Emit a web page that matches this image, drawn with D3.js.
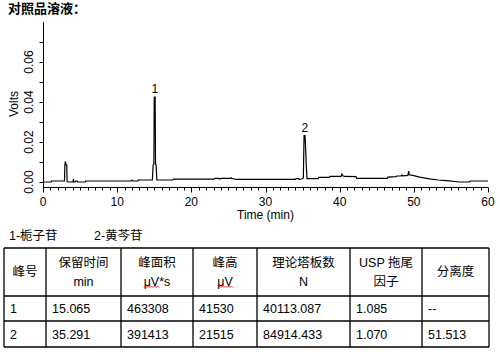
<!DOCTYPE html>
<html><head><meta charset="utf-8">
<script src="https://cdn.jsdelivr.net/npm/d3@7"></script>
<style>
body{margin:0;background:#fff;}
svg{display:block;font-family:"Liberation Sans",Arial,"Noto Sans CJK SC",sans-serif;}
</style></head>
<body><div id="chart"></div>
<script>
// ---- data ----
const title = "对照品溶液：";
const times = [0,1.1,1.15,2.9,2.95,3.0,3.05,3.1,3.2,3.25,3.4,4.05,4.1,4.15,4.35,4.4,4.6,4.65,5.7,5.75,11.9,12.0,12.1,12.8,12.85,14.75,14.85,14.95,15.0,15.12,15.17,15.25,15.35,17.5,17.6,23.1,23.2,23.7,23.75,24.0,25.3,25.4,25.5,25.8,26.0,34.0,34.1,34.5,34.55,34.9,35.1,35.2,35.33,35.42,35.5,35.6,37.1,37.2,38.6,38.7,40.2,40.3,40.4,40.6,42.2,42.3,46.4,46.5,47.6,47.7,48.3,48.4,48.5,49.2,49.3,49.4,50.0,50.8,52.1,53.3,54.4,56.2,57.5,57.6,60];
const volts = [0,0,0.0005,0.0005,0.0085,0.0100,0.0100,0.0085,0.0085,0.0003,0,0,0.0015,0,0,0.0005,0.0005,0,0,0.0005,0.0005,0.0009,0.0005,0.0005,0.0010,0.0010,0.0085,0.0090,0.0425,0.0425,0.0090,0.0085,0.0010,0.0010,0.0014,0.0014,0.0018,0.0018,0.0015,0.0018,0.0018,0.0021,0.0017,0.0015,0.0013,0.0013,0.0017,0.0017,0.0013,0.0015,0.0020,0.0232,0.0232,0.0160,0.0080,0.0017,0.0017,0.0023,0.0023,0.0028,0.0028,0.0040,0.0033,0.0028,0.0027,0.0018,0.0018,0.0024,0.0027,0.0030,0.0031,0.0035,0.0031,0.0033,0.0055,0.0036,0.0032,0.0024,0.0016,0.0010,0.0007,0,0,0.0005,0.0005];
const peakLabels = ["1","2"];
const peakTimes = [15.065,35.291];
const peakTops = [0.0425,0.0232];
const yTickLabels = ["0.00","0.02","0.04","0.06"];
const xTickLabels = ["0","10","20","30","40","50","60"];
const legendItems = ["1-栀子苷","2-黄芩苷"];
const headerLine1 = ["峰号","保留时间","峰面积","峰高","理论塔板数","USP 拖尾","分离度"];
const headerLine2 = ["","min","μV*s","μV","N","因子",""];
const peakNo = ["1","2"];
const retTime = ["15.065","35.291"];
const area = ["463308","391413"];
const height = ["41530","21515"];
const plates = ["40113.087","84914.433"];
const tailing = ["1.085","1.070"];
const resolution = ["--","51.513"];

// ---- layout ----
const W=500,H=356;
const svg=d3.select("#chart").append("svg").attr("width",W).attr("height",H);
const x=d3.scaleLinear().domain([0,60]).range([43,488]);
const y=d3.scaleLinear().domain([-0.0025,0.08]).range([187,22]);

svg.append("text").attr("x",8).attr("y",13).attr("font-size",13).attr("font-weight","bold").text(title);

// axes
const xAxis=svg.append("g").attr("transform","translate(0,187.5)");
xAxis.append("line").attr("x1",43).attr("x2",488).attr("stroke","#000");
xAxis.selectAll("line.t").data(d3.range(0,61,1)).join("line").attr("class","t")
  .attr("x1",d=>Math.round(x(d))+0.5).attr("x2",d=>Math.round(x(d))+0.5)
  .attr("y1",0).attr("y2",d=>d%10===0?5:3).attr("stroke","#000");
xAxis.selectAll("text").data(xTickLabels).join("text")
  .attr("x",d=>x(+d)).attr("y",18.5).attr("text-anchor","middle").attr("font-size",12).text(d=>d);
svg.append("text").attr("x",x(30)).attr("y",219).attr("text-anchor","middle").attr("font-size",12).text("Time (min)");

const yAxis=svg.append("g").attr("transform","translate(43.5,0)");
yAxis.append("line").attr("y1",22).attr("y2",188).attr("stroke","#000");
yAxis.selectAll("line.t").data(d3.range(0,8).map(i=>i*0.01)).join("line").attr("class","t")
  .attr("x1",-4).attr("x2",0).attr("y1",d=>Math.round(y(d))+0.5).attr("y2",d=>Math.round(y(d))+0.5).attr("stroke","#000");
yAxis.selectAll("text").data(yTickLabels).join("text")
  .attr("transform",d=>`translate(-15,${y(+d)}) rotate(-90)`)
  .attr("text-anchor","middle").attr("dy","0.36em").attr("font-size",12).text(d=>d);
svg.append("text").attr("transform","translate(14,104) rotate(-90)").attr("text-anchor","middle")
  .attr("dy","0.36em").attr("font-size",12).text("Volts");

// trace
const pts=times.map((t,i)=>[t,volts[i]]);
svg.append("path").datum(pts).attr("fill","none").attr("stroke","#000").attr("stroke-width",1.2)
  .attr("d",d3.line().x(d=>x(d[0])).y(d=>y(d[1])));

// peak labels
svg.selectAll("text.pk").data(peakLabels).join("text").attr("class","pk")
  .attr("x",(d,i)=>x(peakTimes[i])).attr("y",(d,i)=>y(peakTops[i])-4)
  .attr("text-anchor","middle").attr("font-size",12).text(d=>d);

// legend
svg.selectAll("text.lg").data(legendItems).join("text").attr("class","lg")
  .attr("x",(d,i)=>i===0?9:94).attr("y",240).attr("font-size",12.5).text(d=>d);

// table
const cols=[4,46,121,193,257,350,422,489];
const rows=[248,296,321,347];
const tg=svg.append("g").attr("stroke","#000").attr("stroke-width",1.3);
cols.forEach(c=>tg.append("line").attr("x1",c).attr("x2",c).attr("y1",rows[0]).attr("y2",rows[3]));
rows.forEach(r=>tg.append("line").attr("x1",cols[0]).attr("x2",cols[7]).attr("y1",r).attr("y2",r));

const fs=12.5;
headerLine1.forEach((h,i)=>{
  const cx=(cols[i]+cols[i+1])/2;
  if(headerLine2[i]===""){
    svg.append("text").attr("x",cx).attr("y",271).attr("dy","0.36em").attr("text-anchor","middle").attr("font-size",fs).text(h);
  } else {
    svg.append("text").attr("x",cx).attr("y",262).attr("dy","0.36em").attr("text-anchor","middle").attr("font-size",fs).text(h);
    svg.append("text").attr("x",cx).attr("y",281).attr("dy","0.36em").attr("text-anchor","middle").attr("font-size",fs).text(headerLine2[i]);
  }
});
// spell-check squiggles under μV
function squiggle(x0,x1,yy){
  let d=`M${x0},${yy}`;let up=true;
  for(let xx=x0+1.5;xx<=x1;xx+=1.5){d+=`L${xx},${up?yy-1.5:yy}`;up=!up;}
  svg.append("path").attr("d",d).attr("fill","none").attr("stroke","#e00").attr("stroke-width",0.8);
}
squiggle(144,160,287.5);
squiggle(218,233,287.5);

const rowData=[peakNo,retTime,area,height,plates,tailing,resolution];
const rowCenters=[308.5,334];
rowData.forEach((col,ci)=>{
  col.forEach((v,ri)=>{
    svg.append("text").attr("x",cols[ci]+6).attr("y",rowCenters[ri]).attr("dy","0.36em")
      .attr("font-size",fs).text(v);
  });
});
</script></body></html>
